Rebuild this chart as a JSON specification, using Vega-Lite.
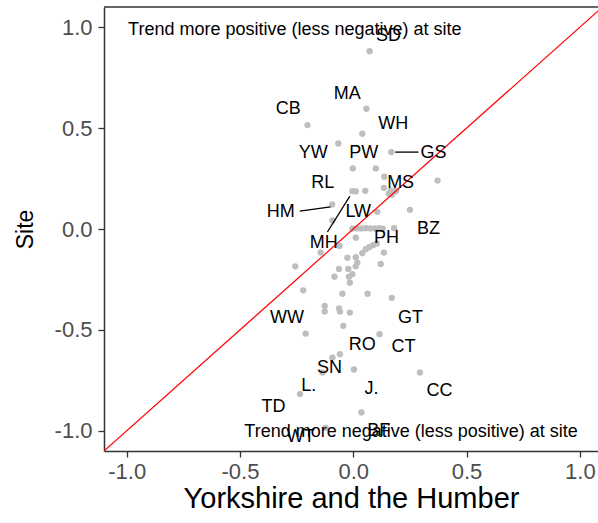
{
  "$schema": "https://vega.github.io/schema/vega-lite/v6.json",
  "autosize": "none",
  "width": 494,
  "height": 444,
  "padding": {"left": 104, "top": 7, "right": 0, "bottom": 72},
  "background": "white",
  "config": {
    "view": {"stroke": null},
    "font": "Liberation Sans",
    "axis": {
      "grid": false,
      "labelFont": "Liberation Sans",
      "titleFont": "Liberation Sans",
      "labelColor": "#4D4D4D",
      "tickColor": "#333333",
      "domainColor": "#333333",
      "domainWidth": 1.5,
      "tickWidth": 1.3,
      "tickSize": 6,
      "titleFontWeight": "normal",
      "titleColor": "#000000"
    }
  },
  "datasets": {
    "points": [
      {"x": 0.072, "y": 0.881}, {"x": 0.058, "y": 0.596}, {"x": -0.202, "y": 0.515}, {"x": 0.040, "y": 0.472},
      {"x": -0.066, "y": 0.424}, {"x": 0.168, "y": 0.381}, {"x": -0.002, "y": 0.300}, {"x": 0.099, "y": 0.300},
      {"x": 0.137, "y": 0.259}, {"x": 0.372, "y": 0.240}, {"x": -0.004, "y": 0.188}, {"x": 0.011, "y": 0.186},
      {"x": 0.053, "y": 0.189}, {"x": 0.135, "y": 0.204}, {"x": 0.157, "y": 0.175}, {"x": 0.170, "y": 0.170},
      {"x": 0.182, "y": 0.185}, {"x": 0.190, "y": 0.190}, {"x": 0.165, "y": 0.190}, {"x": -0.093, "y": 0.122},
      {"x": 0.250, "y": 0.095}, {"x": 0.106, "y": 0.085}, {"x": -0.092, "y": 0.043},
      {"x": -0.004, "y": 0.002}, {"x": 0.015, "y": 0.003}, {"x": 0.035, "y": 0.003}, {"x": 0.055, "y": 0.004},
      {"x": 0.075, "y": 0.003}, {"x": 0.095, "y": 0.003}, {"x": 0.115, "y": 0.004}, {"x": 0.130, "y": 0.002},
      {"x": 0.180, "y": 0.004}, {"x": 0.011, "y": -0.043}, {"x": -0.061, "y": -0.084}, {"x": -0.144, "y": -0.117},
      {"x": 0.055, "y": -0.100}, {"x": 0.070, "y": -0.090}, {"x": 0.088, "y": -0.080}, {"x": 0.104, "y": -0.072},
      {"x": 0.040, "y": -0.120}, {"x": 0.135, "y": -0.117}, {"x": -0.026, "y": -0.142}, {"x": 0.011, "y": -0.140},
      {"x": 0.018, "y": -0.167}, {"x": 0.121, "y": -0.173}, {"x": -0.256, "y": -0.185}, {"x": -0.063, "y": -0.198},
      {"x": -0.022, "y": -0.198}, {"x": 0.011, "y": -0.185}, {"x": -0.004, "y": -0.224}, {"x": -0.083, "y": -0.236},
      {"x": -0.019, "y": -0.236}, {"x": -0.015, "y": -0.266}, {"x": -0.221, "y": -0.304}, {"x": -0.048, "y": -0.321},
      {"x": 0.063, "y": -0.321}, {"x": 0.170, "y": -0.341}, {"x": -0.126, "y": -0.381}, {"x": -0.126, "y": -0.409},
      {"x": -0.063, "y": -0.393}, {"x": -0.059, "y": -0.409}, {"x": -0.015, "y": -0.414}, {"x": -0.044, "y": -0.480},
      {"x": -0.210, "y": -0.518}, {"x": 0.116, "y": -0.521}, {"x": -0.059, "y": -0.620}, {"x": -0.092, "y": -0.637},
      {"x": 0.003, "y": -0.696}, {"x": -0.136, "y": -0.711}, {"x": 0.294, "y": -0.711}, {"x": -0.235, "y": -0.818},
      {"x": 0.036, "y": -0.909}, {"x": -0.122, "y": -0.985}
    ],
    "labels": [
      {"site": "SD", "x": 0.156, "y": 0.955}, {"site": "MA", "x": -0.026, "y": 0.670},
      {"site": "CB", "x": -0.287, "y": 0.594}, {"site": "WH", "x": 0.176, "y": 0.521},
      {"site": "YW", "x": -0.177, "y": 0.378}, {"site": "PW", "x": 0.046, "y": 0.378},
      {"site": "GS", "x": 0.354, "y": 0.378}, {"site": "RL", "x": -0.135, "y": 0.229},
      {"site": "MS", "x": 0.209, "y": 0.229}, {"site": "HM", "x": -0.320, "y": 0.086},
      {"site": "LW", "x": 0.022, "y": 0.086}, {"site": "BZ", "x": 0.332, "y": -0.001},
      {"site": "MH", "x": -0.130, "y": -0.068}, {"site": "PH", "x": 0.147, "y": -0.043},
      {"site": "WW", "x": -0.293, "y": -0.442}, {"site": "GT", "x": 0.253, "y": -0.439},
      {"site": "RO", "x": 0.040, "y": -0.574}, {"site": "CT", "x": 0.222, "y": -0.584},
      {"site": "SN", "x": -0.105, "y": -0.687}, {"site": "L.", "x": -0.196, "y": -0.777},
      {"site": "J.", "x": 0.080, "y": -0.794}, {"site": "CC", "x": 0.381, "y": -0.805},
      {"site": "TD", "x": -0.352, "y": -0.881}, {"site": "WT", "x": -0.232, "y": -1.033},
      {"site": "BF", "x": 0.112, "y": -1.0}
    ],
    "leaders": [
      {"site": "GS", "x": 0.185, "y": 0.381, "x2": 0.288, "y2": 0.381},
      {"site": "HM", "x": -0.236, "y": 0.089, "x2": -0.100, "y2": 0.110},
      {"site": "MH", "x": -0.015, "y": 0.163, "x2": -0.114, "y2": -0.015}
    ],
    "identity": [{"x": -1.1, "y": -1.1}, {"x": 1.1, "y": 1.1}],
    "notes": [
      {"text": "Trend more positive (less negative) at site", "x": -0.258, "y": 0.985},
      {"text": "Trend more negative (less positive) at site", "x": 0.255, "y": -1.008}
    ]
  },
  "encoding": {
    "x": {
      "field": "x", "type": "quantitative",
      "scale": {"domain": [-1.1, 1.08], "nice": false, "zero": false},
      "axis": {
        "title": "Yorkshire and the Humber",
        "values": [-1, -0.5, 0, 0.5, 1],
        "labelExpr": "(datum.value < 0 ? '-' : '') + format(abs(datum.value), '.1f')",
        "labelFontSize": 22,
        "labelPadding": 4,
        "titleFontSize": 29,
        "titlePadding": 2
      }
    },
    "y": {
      "field": "y", "type": "quantitative",
      "scale": {"domain": [-1.1, 1.1], "nice": false, "zero": false},
      "axis": {
        "title": "Site",
        "values": [-1, -0.5, 0, 0.5, 1],
        "labelExpr": "(datum.value < 0 ? '-' : '') + format(abs(datum.value), '.1f')",
        "labelFontSize": 22,
        "labelPadding": 6,
        "titleFontSize": 23,
        "titlePadding": 17
      }
    }
  },
  "layer": [
    {
      "data": {"name": "points"},
      "mark": {"type": "circle", "size": 40, "color": "#BEBEBE", "opacity": 1}
    },
    {
      "data": {"name": "identity"},
      "mark": {"type": "line", "color": "#FF0000", "strokeWidth": 1.2, "clip": true}
    },
    {
      "data": {"name": "leaders"},
      "mark": {"type": "rule", "color": "#000000", "strokeWidth": 1.3},
      "encoding": {"x2": {"field": "x2"}, "y2": {"field": "y2"}}
    },
    {
      "data": {"name": "labels"},
      "mark": {"type": "text", "fontSize": 18, "color": "#000000", "align": "center", "baseline": "middle", "font": "Liberation Sans"},
      "encoding": {"text": {"field": "site"}}
    },
    {
      "data": {"name": "notes"},
      "mark": {"type": "text", "fontSize": 18, "color": "#000000", "align": "center", "baseline": "middle", "font": "Liberation Sans"},
      "encoding": {"text": {"field": "text"}}
    },
    {
      "data": {"values": [{"y": 1.1}]},
      "mark": {"type": "rule", "color": "#333333", "strokeWidth": 1.5},
      "encoding": {"x": {"value": 0}, "x2": {"value": 494}}
    }
  ]
}
